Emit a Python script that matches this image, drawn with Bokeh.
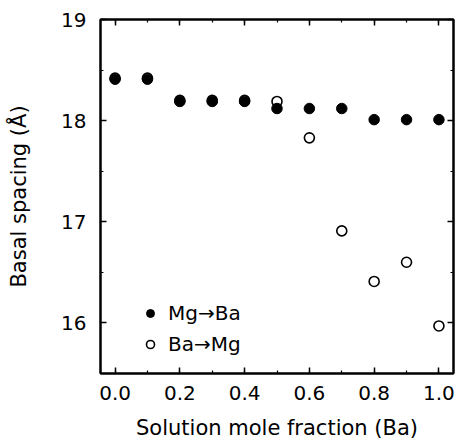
from bokeh.plotting import figure
from bokeh.models import (Range1d, SingleIntervalTicker, PrintfTickFormatter,
                          LinearAxis, Legend, LegendItem, ColumnDataSource)
from bokeh.embed import file_html
from bokeh.resources import INLINE

x_vals = [0.0, 0.1, 0.2, 0.3, 0.4, 0.5, 0.6, 0.7, 0.8, 0.9, 1.0]
mg_to_ba = [18.41, 18.41, 18.19, 18.19, 18.19, 18.12, 18.12, 18.12, 18.01, 18.01, 18.01]
ba_to_mg = [18.42, 18.42, 18.20, 18.20, 18.20, 18.19, 17.83, 16.91, 16.41, 16.60, 15.97]

FONT = "DejaVu Sans"

p = figure(frame_width=353, frame_height=354, output_backend="svg", toolbar_location=None,
           x_range=Range1d(-0.045, 1.045), y_range=Range1d(15.5, 19.0),
           min_border_left=100, min_border_right=5, min_border_top=19,
           min_border_bottom=66)
p.grid.visible = False
p.outline_line_color = "black"
p.outline_line_width = 2
p.background_fill_color = "white"
p.border_fill_color = "white"

src_open = ColumnDataSource(dict(x=x_vals, y=ba_to_mg))
src_fill = ColumnDataSource(dict(x=x_vals, y=mg_to_ba))
r_open = p.scatter("x", "y", source=src_open, size=10, marker="circle",
                   fill_color="white", line_color="black", line_width=1.6)
r_fill = p.scatter("x", "y", source=src_fill, size=10.5, marker="circle",
                   fill_color="black", line_color="black", line_width=1)

def style_axis(ax, labels=True):
    ax.axis_line_width = 2
    ax.axis_line_color = "black"
    ax.major_tick_in = 6
    ax.major_tick_out = 0
    ax.minor_tick_in = 3
    ax.minor_tick_out = 0
    ax.major_tick_line_width = 1.5
    ax.minor_tick_line_width = 1.2
    ax.major_label_text_font = FONT
    ax.major_label_text_font_size = "20px"
    ax.major_label_text_color = "black"
    ax.axis_label_text_font = FONT
    ax.axis_label_text_font_size = "21px"
    ax.axis_label_text_font_style = "normal"
    ax.axis_label_text_color = "black"
    if not labels:
        ax.major_label_text_font_size = "0px"
        ax.major_label_text_alpha = 0
        ax.major_label_standoff = 0

xt = SingleIntervalTicker(interval=0.2, num_minor_ticks=2)
yt = SingleIntervalTicker(interval=1.0, num_minor_ticks=2)

xa = p.xaxis[0]
xa.ticker = xt
xa.formatter = PrintfTickFormatter(format="%.1f")
xa.axis_label = "Solution mole fraction (Ba)"
style_axis(xa)
xa.major_label_standoff = 12
xa.axis_label_standoff = 13

ya = p.yaxis[0]
ya.ticker = yt
ya.axis_label = "Basal spacing (Å)"
style_axis(ya)
ya.major_label_standoff = 14
ya.axis_label_standoff = 27

top = LinearAxis(ticker=SingleIntervalTicker(interval=0.2, num_minor_ticks=2))
style_axis(top, labels=False)
p.add_layout(top, "above")
right = LinearAxis(ticker=SingleIntervalTicker(interval=1.0, num_minor_ticks=2))
style_axis(right, labels=False)
p.add_layout(right, "right")

legend = Legend(items=[LegendItem(label="Mg→Ba", renderers=[r_fill]),
                       LegendItem(label="Ba→Mg", renderers=[r_open])],
                location=(40, 17), orientation="vertical",
                background_fill_alpha=0, border_line_alpha=0,
                label_text_font=FONT, label_text_font_size="20px",
                label_text_color="black",
                glyph_width=20, glyph_height=20, label_height=20,
                label_standoff=8, spacing=7, padding=0, margin=0)
p.add_layout(legend)

open("out.html", "w").write(file_html(p, INLINE))
